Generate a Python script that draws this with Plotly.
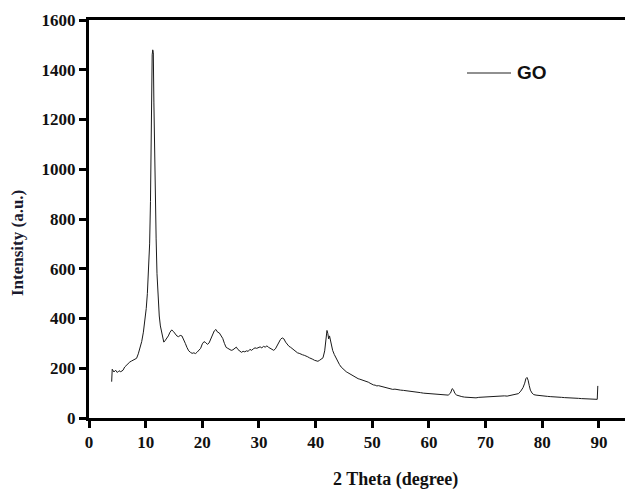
import plotly.graph_objects as go

two_theta = [4.0, 4.1, 4.4, 4.7, 5.0, 5.3, 5.6, 6.0, 6.3, 6.6, 6.9, 7.2, 7.5, 7.8, 8.1, 8.4, 8.7, 9.0, 9.3, 9.6,
             9.9, 10.1, 10.3, 10.5, 10.7, 10.85, 10.95, 11.05, 11.15, 11.25, 11.35, 11.45, 11.55, 11.7, 11.85, 12.0,
             12.2, 12.4, 12.6, 12.8, 13.0, 13.2, 13.4, 13.7, 14.0, 14.3, 14.6, 14.9, 15.2, 15.5, 15.8, 16.1, 16.4,
             16.7, 17.0, 17.3, 17.6, 17.9, 18.2, 18.5, 18.8, 19.1, 19.4, 19.7, 20.0, 20.3, 20.6, 20.9, 21.2, 21.5,
             21.8, 22.1, 22.4, 22.7, 23.0, 23.3, 23.6, 23.9, 24.2, 24.5, 24.8, 25.1, 25.4, 25.7, 26.0, 26.3, 26.6,
             26.9, 27.2, 27.5, 27.8, 28.1, 28.4, 28.7, 29.0, 29.3, 29.6, 29.9, 30.2, 30.5, 30.8, 31.1, 31.4, 31.7,
             32.0, 32.3, 32.6, 32.9, 33.2, 33.5, 33.8, 34.1, 34.4, 34.7, 35.0, 35.3, 35.6, 35.9, 36.2, 36.5, 36.8,
             37.1, 37.4, 37.7, 38.0, 38.3, 38.6, 38.9, 39.2, 39.5, 39.8, 40.1, 40.4, 40.7, 41.0, 41.3, 41.6, 41.8,
             42.0, 42.15, 42.3, 42.45, 42.6, 42.8, 43.0, 43.3, 43.6, 43.9, 44.2, 44.5, 44.8, 45.1, 45.4, 45.7, 46.0,
             46.3, 46.6, 46.9, 47.2, 47.5, 47.8, 48.1, 48.4, 48.7, 49.0, 49.3, 49.6, 49.9, 50.2, 50.5, 50.8, 51.1,
             51.4, 51.7, 52.0, 52.4, 52.8, 53.2, 53.6, 54.0, 54.5, 55.0, 55.5, 56.0, 56.5, 57.0, 57.5, 58.0, 58.5,
             59.0, 59.5, 60.0, 60.5, 61.0, 61.5, 62.0, 62.5, 63.0, 63.4, 63.8, 64.1, 64.3, 64.6, 64.9, 65.3, 65.8,
             66.3, 66.8, 67.3, 67.8, 68.3, 68.8, 69.3, 69.8, 70.3, 70.8, 71.3, 71.8, 72.3, 72.8, 73.3, 73.8, 74.3,
             74.8, 75.3, 75.8, 76.2, 76.6, 76.9, 77.1, 77.3, 77.5, 77.7, 77.9, 78.2, 78.5, 78.9, 79.4, 79.9, 80.4,
             80.9, 81.4, 81.9, 82.4, 82.9, 83.4, 83.9, 84.4, 84.9, 85.4, 85.9, 86.4, 86.9, 87.4, 87.9, 88.4, 88.9,
             89.4, 89.7, 89.8]

intensity = [146, 196, 185, 192, 183, 190, 186, 192, 205, 213, 218, 225, 229, 232, 236, 240, 258, 282, 307, 345,
             394, 440, 500, 580, 700, 870, 1080, 1350, 1460, 1480, 1470, 1270, 1100, 900, 720, 580,
             461, 410, 370, 345, 318, 305, 310, 318, 330, 345, 354, 348, 338, 330, 327, 332, 330,
             318, 300, 283, 270, 264, 260, 262, 259, 265, 272, 280, 298, 307, 303, 296, 302, 318,
             335, 350, 356, 345, 342, 330, 320, 300, 284, 280, 276, 272, 274, 280, 285, 275, 270,
             264, 268, 266, 270, 268, 276, 272, 278, 282, 280, 284, 286, 282, 288, 285, 290, 284,
             280, 276, 272, 278, 290, 305, 316, 322, 318, 305, 295, 288, 284, 278, 272, 266, 262,
             260, 256, 254, 252, 250, 246, 242, 240, 236, 232, 230, 228, 232, 236, 242, 270, 320,
             352, 340, 318, 330, 312, 290, 272, 255, 240, 230, 215, 205, 198, 190, 186, 182, 178,
             174, 168, 164, 160, 158, 156, 154, 150, 148, 146, 144, 140, 136, 133, 132, 129, 130,
             128, 126, 124, 122, 119, 118, 115, 116, 113, 112, 111, 110, 108, 106, 105, 103, 102,
             100, 99, 97, 96, 95, 94, 92, 91, 90, 92, 100, 118, 114, 98, 92, 88, 86,
             84, 83, 82, 82, 81, 83, 84, 85, 86, 87, 88, 86, 88, 88, 89, 88, 90,
             92, 94, 98, 108, 122, 140, 158, 163, 152, 130, 112, 100, 94, 92, 90, 89, 88,
             87, 86, 86, 85, 84, 83, 82, 82, 81, 80, 79, 79, 78, 78, 77, 77, 76,
             75, 75, 129]

x_ticks = [0, 10, 20, 30, 40, 50, 60, 70, 80, 90]
y_ticks = [0, 200, 400, 600, 800, 1000, 1200, 1400, 1600]

series_name = "GO"

fig = go.Figure()
fig.add_trace(go.Scatter(x=two_theta, y=intensity, mode="lines", name=series_name,
                         line=dict(color="#1a1a1a", width=1), showlegend=False))

tick_font = dict(family="Liberation Serif", size=17, color="#111111", weight="bold")
W, H = 625, 491
ml, mr, mt, mb = 89, 0, 20, 73
pw, ph = W - ml - mr, H - mt - mb

fig.update_layout(
    width=W, height=H,
    margin=dict(l=ml, r=mr, t=mt, b=mb),
    paper_bgcolor="white", plot_bgcolor="white",
    xaxis=dict(range=[0, 94.6], tickvals=x_ticks, ticks="outside", ticklen=7, tickwidth=3,
               tickcolor="black", showline=True, linewidth=3, linecolor="black", mirror=True,
               showgrid=False, zeroline=False, tickfont=tick_font, automargin=False),
    yaxis=dict(range=[0, 1600], tickvals=y_ticks, ticks="outside", ticklen=7, tickwidth=3,
               tickcolor="black", showline=True, linewidth=3, linecolor="black", mirror=False,
               showgrid=False, zeroline=False, tickfont=tick_font, automargin=False),
)

# axis titles
fig.add_annotation(text="2 Theta (degree)", xref="paper", yref="paper",
                   x=(395 - ml) / pw, y=-(480 - (H - mb)) / ph,
                   showarrow=False, xanchor="center", yanchor="middle",
                   font=dict(family="Liberation Serif", size=18, color="#111111", weight="bold"))
fig.add_annotation(text="Intensity (a.u.)", xref="paper", yref="paper",
                   x=-(ml - 17) / pw, y=((H - mb) - 243) / ph,
                   showarrow=False, xanchor="center", yanchor="middle", textangle=-90,
                   font=dict(family="Liberation Serif", size=17, color="#1a1a2e", weight="bold"))

# legend
fig.add_shape(type="line", xref="paper", yref="paper",
              x0=(467 - ml) / pw, x1=(511 - ml) / pw,
              y0=((H - mb) - 73) / ph, y1=((H - mb) - 73) / ph,
              line=dict(color="#222222", width=1.2))
fig.add_annotation(text=series_name, xref="paper", yref="paper",
                   x=(515 - ml) / pw, y=((H - mb) - 73) / ph, showarrow=False,
                   xanchor="left", yanchor="middle",
                   font=dict(family="Liberation Sans", size=19, color="#111111", weight="bold"))

fig.write_html("out.html", config={"displayModeBar": False},
               post_script="document.body.style.margin='0';document.body.style.overflow='hidden';")
